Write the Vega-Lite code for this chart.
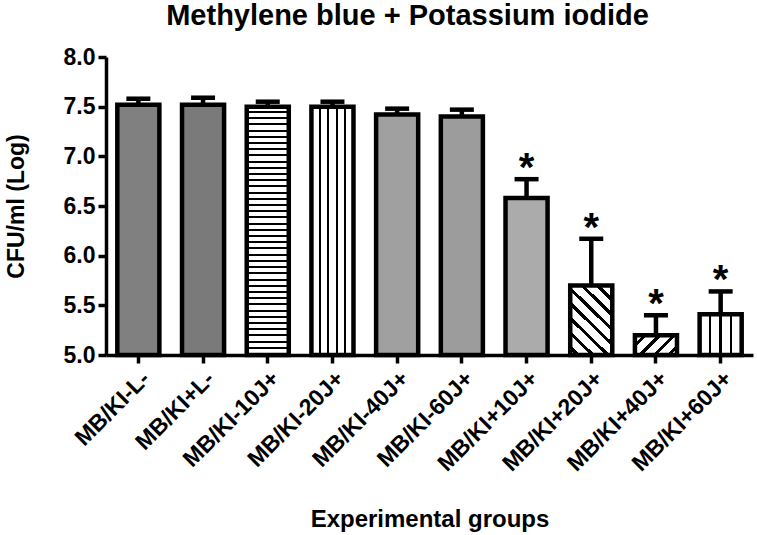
{
  "$schema": "https://vega.github.io/schema/vega-lite/v6.json",
  "width": 647,
  "height": 298,
  "autosize": "none",
  "padding": {"left": 106, "top": 57, "right": 4, "bottom": 180},
  "background": "#ffffff",
  "title": {"text": "Methylene blue + Potassium iodide", "font": "Liberation Sans", "fontSize": 29, "fontWeight": "bold", "color": "#000", "anchor": "middle", "frame": "group", "dx": -22, "dy": 14, "baseline": "bottom", "offset": 0},
  "config": {
    "view": {"stroke": null},
    "axis": {"domainColor": "#000", "domainWidth": 3.5, "tickColor": "#000", "tickWidth": 3.5, "tickSize": 8, "labelColor": "#000", "labelFont": "Liberation Sans", "labelFontWeight": "bold", "titleFont": "Liberation Sans", "titleFontWeight": "bold", "titleColor": "#000", "grid": false},
    "axisY": {"title": "CFU/ml (Log)", "values": [5, 5.5, 6, 6.5, 7, 7.5, 8], "format": ".1f", "labelFontSize": 23, "labelPadding": 3, "titleFontSize": 23, "titlePadding": 35}
  },
  "data": {"values": [
    {"group": "MB/KI-L-", "mean": 7.52, "upper": 7.58, "sig": ""},
    {"group": "MB/KI+L-", "mean": 7.52, "upper": 7.59, "sig": ""},
    {"group": "MB/KI-10J+", "mean": 7.50, "upper": 7.55, "sig": ""},
    {"group": "MB/KI-20J+", "mean": 7.50, "upper": 7.55, "sig": ""},
    {"group": "MB/KI-40J+", "mean": 7.42, "upper": 7.48, "sig": ""},
    {"group": "MB/KI-60J+", "mean": 7.40, "upper": 7.47, "sig": ""},
    {"group": "MB/KI+10J+", "mean": 6.58, "upper": 6.77, "sig": "*"},
    {"group": "MB/KI+20J+", "mean": 5.70, "upper": 6.17, "sig": "*"},
    {"group": "MB/KI+40J+", "mean": 5.20, "upper": 5.40, "sig": "*"},
    {"group": "MB/KI+60J+", "mean": 5.41, "upper": 5.64, "sig": "*"}
  ]},
  "encoding": {
    "x": {"field": "group", "type": "nominal", "sort": null,
      "scale": {"type": "band", "paddingInner": 0.35, "paddingOuter": 0.175},
      "axis": {"title": "Experimental groups", "labelAngle": -45, "labelFontSize": 23, "labelPadding": 4, "titleFontSize": 24, "titlePadding": 32, "bandPosition": 0.5}}
  },
  "layer": [
    {
      "mark": {"type": "rule", "strokeWidth": 4.5, "color": "#000"},
      "encoding": {
        "y": {"field": "mean", "type": "quantitative", "scale": {"domain": [5, 8], "nice": false, "zero": false}, "title": "CFU/ml (Log)"},
        "y2": {"field": "upper"}
      }
    },
    {
      "mark": {"type": "tick", "size": 24, "thickness": 4.5, "color": "#000", "opacity": 1, "orient": "horizontal"},
      "encoding": {
        "y": {"field": "upper", "type": "quantitative", "scale": {"domain": [5, 8], "nice": false, "zero": false}, "title": "CFU/ml (Log)"}
      }
    },
    {
      "mark": {"type": "bar", "stroke": "#000", "strokeWidth": 4.5},
      "encoding": {
        "y": {"field": "mean", "type": "quantitative", "scale": {"domain": [5, 8], "nice": false, "zero": false}, "title": "CFU/ml (Log)"},
        "y2": {"datum": 5},
        "fill": {"field": "group", "type": "nominal", "legend": null,
          "scale": {"domain": ["MB/KI-L-", "MB/KI+L-", "MB/KI-10J+", "MB/KI-20J+", "MB/KI-40J+", "MB/KI-60J+", "MB/KI+10J+", "MB/KI+20J+", "MB/KI+40J+", "MB/KI+60J+"],
                    "range": ["#808080", "#7a7a7a", "#ffffff", "#ffffff", "#a0a0a0", "#9c9c9c", "#ababab", "#ffffff", "#ffffff", "#ffffff"]},
          "condition": [
            {"test": "datum.group === 'MB/KI-10J+'", "value": {"gradient": "linear", "x1": 0, "y1": 0, "x2": 0, "y2": 1, "stops": [
              {"offset":0.017,"color":"#fff"},{"offset":0.017,"color":"#000"},{"offset":0.025,"color":"#000"},{"offset":0.025,"color":"#fff"},
              {"offset":0.042,"color":"#fff"},{"offset":0.042,"color":"#000"},{"offset":0.05,"color":"#000"},{"offset":0.05,"color":"#fff"},
              {"offset":0.067,"color":"#fff"},{"offset":0.067,"color":"#000"},{"offset":0.075,"color":"#000"},{"offset":0.075,"color":"#fff"},
              {"offset":0.092,"color":"#fff"},{"offset":0.092,"color":"#000"},{"offset":0.1,"color":"#000"},{"offset":0.1,"color":"#fff"},
              {"offset":0.117,"color":"#fff"},{"offset":0.117,"color":"#000"},{"offset":0.125,"color":"#000"},{"offset":0.125,"color":"#fff"},
              {"offset":0.142,"color":"#fff"},{"offset":0.142,"color":"#000"},{"offset":0.15,"color":"#000"},{"offset":0.15,"color":"#fff"},
              {"offset":0.167,"color":"#fff"},{"offset":0.167,"color":"#000"},{"offset":0.175,"color":"#000"},{"offset":0.175,"color":"#fff"},
              {"offset":0.192,"color":"#fff"},{"offset":0.192,"color":"#000"},{"offset":0.2,"color":"#000"},{"offset":0.2,"color":"#fff"},
              {"offset":0.217,"color":"#fff"},{"offset":0.217,"color":"#000"},{"offset":0.225,"color":"#000"},{"offset":0.225,"color":"#fff"},
              {"offset":0.242,"color":"#fff"},{"offset":0.242,"color":"#000"},{"offset":0.25,"color":"#000"},{"offset":0.25,"color":"#fff"},
              {"offset":0.267,"color":"#fff"},{"offset":0.267,"color":"#000"},{"offset":0.275,"color":"#000"},{"offset":0.275,"color":"#fff"},
              {"offset":0.292,"color":"#fff"},{"offset":0.292,"color":"#000"},{"offset":0.3,"color":"#000"},{"offset":0.3,"color":"#fff"},
              {"offset":0.317,"color":"#fff"},{"offset":0.317,"color":"#000"},{"offset":0.325,"color":"#000"},{"offset":0.325,"color":"#fff"},
              {"offset":0.342,"color":"#fff"},{"offset":0.342,"color":"#000"},{"offset":0.35,"color":"#000"},{"offset":0.35,"color":"#fff"},
              {"offset":0.367,"color":"#fff"},{"offset":0.367,"color":"#000"},{"offset":0.375,"color":"#000"},{"offset":0.375,"color":"#fff"},
              {"offset":0.392,"color":"#fff"},{"offset":0.392,"color":"#000"},{"offset":0.4,"color":"#000"},{"offset":0.4,"color":"#fff"},
              {"offset":0.417,"color":"#fff"},{"offset":0.417,"color":"#000"},{"offset":0.425,"color":"#000"},{"offset":0.425,"color":"#fff"},
              {"offset":0.442,"color":"#fff"},{"offset":0.442,"color":"#000"},{"offset":0.45,"color":"#000"},{"offset":0.45,"color":"#fff"},
              {"offset":0.467,"color":"#fff"},{"offset":0.467,"color":"#000"},{"offset":0.475,"color":"#000"},{"offset":0.475,"color":"#fff"},
              {"offset":0.492,"color":"#fff"},{"offset":0.492,"color":"#000"},{"offset":0.5,"color":"#000"},{"offset":0.5,"color":"#fff"},
              {"offset":0.517,"color":"#fff"},{"offset":0.517,"color":"#000"},{"offset":0.525,"color":"#000"},{"offset":0.525,"color":"#fff"},
              {"offset":0.542,"color":"#fff"},{"offset":0.542,"color":"#000"},{"offset":0.55,"color":"#000"},{"offset":0.55,"color":"#fff"},
              {"offset":0.567,"color":"#fff"},{"offset":0.567,"color":"#000"},{"offset":0.575,"color":"#000"},{"offset":0.575,"color":"#fff"},
              {"offset":0.592,"color":"#fff"},{"offset":0.592,"color":"#000"},{"offset":0.6,"color":"#000"},{"offset":0.6,"color":"#fff"},
              {"offset":0.617,"color":"#fff"},{"offset":0.617,"color":"#000"},{"offset":0.625,"color":"#000"},{"offset":0.625,"color":"#fff"},
              {"offset":0.642,"color":"#fff"},{"offset":0.642,"color":"#000"},{"offset":0.65,"color":"#000"},{"offset":0.65,"color":"#fff"},
              {"offset":0.667,"color":"#fff"},{"offset":0.667,"color":"#000"},{"offset":0.675,"color":"#000"},{"offset":0.675,"color":"#fff"},
              {"offset":0.692,"color":"#fff"},{"offset":0.692,"color":"#000"},{"offset":0.7,"color":"#000"},{"offset":0.7,"color":"#fff"},
              {"offset":0.717,"color":"#fff"},{"offset":0.717,"color":"#000"},{"offset":0.725,"color":"#000"},{"offset":0.725,"color":"#fff"},
              {"offset":0.742,"color":"#fff"},{"offset":0.742,"color":"#000"},{"offset":0.75,"color":"#000"},{"offset":0.75,"color":"#fff"},
              {"offset":0.767,"color":"#fff"},{"offset":0.767,"color":"#000"},{"offset":0.775,"color":"#000"},{"offset":0.775,"color":"#fff"},
              {"offset":0.792,"color":"#fff"},{"offset":0.792,"color":"#000"},{"offset":0.8,"color":"#000"},{"offset":0.8,"color":"#fff"},
              {"offset":0.817,"color":"#fff"},{"offset":0.817,"color":"#000"},{"offset":0.825,"color":"#000"},{"offset":0.825,"color":"#fff"},
              {"offset":0.842,"color":"#fff"},{"offset":0.842,"color":"#000"},{"offset":0.85,"color":"#000"},{"offset":0.85,"color":"#fff"},
              {"offset":0.867,"color":"#fff"},{"offset":0.867,"color":"#000"},{"offset":0.875,"color":"#000"},{"offset":0.875,"color":"#fff"},
              {"offset":0.892,"color":"#fff"},{"offset":0.892,"color":"#000"},{"offset":0.9,"color":"#000"},{"offset":0.9,"color":"#fff"},
              {"offset":0.917,"color":"#fff"},{"offset":0.917,"color":"#000"},{"offset":0.925,"color":"#000"},{"offset":0.925,"color":"#fff"},
              {"offset":0.942,"color":"#fff"},{"offset":0.942,"color":"#000"},{"offset":0.95,"color":"#000"},{"offset":0.95,"color":"#fff"},
              {"offset":0.967,"color":"#fff"},{"offset":0.967,"color":"#000"},{"offset":0.975,"color":"#000"},{"offset":0.975,"color":"#fff"}
            ]}},
            {"test": "datum.group === 'MB/KI-20J+'", "value": {"gradient": "linear", "x1": 0, "y1": 0, "x2": 1, "y2": 0, "stops": [
              {"offset":0.175,"color":"#fff"},{"offset":0.175,"color":"#000"},{"offset":0.225,"color":"#000"},{"offset":0.225,"color":"#fff"},
              {"offset":0.375,"color":"#fff"},{"offset":0.375,"color":"#000"},{"offset":0.425,"color":"#000"},{"offset":0.425,"color":"#fff"},
              {"offset":0.575,"color":"#fff"},{"offset":0.575,"color":"#000"},{"offset":0.625,"color":"#000"},{"offset":0.625,"color":"#fff"},
              {"offset":0.775,"color":"#fff"},{"offset":0.775,"color":"#000"},{"offset":0.825,"color":"#000"},{"offset":0.825,"color":"#fff"}
            ]}},
            {"test": "datum.group === 'MB/KI+20J+'", "value": {"gradient": "linear", "x1": 0, "y1": 1, "x2": 0.696, "y2": -0.179, "stops": [
              {"offset":0.05,"color":"#fff"},{"offset":0.05,"color":"#000"},{"offset":0.09,"color":"#000"},{"offset":0.09,"color":"#fff"},
              {"offset":0.18,"color":"#fff"},{"offset":0.18,"color":"#000"},{"offset":0.22,"color":"#000"},{"offset":0.22,"color":"#fff"},
              {"offset":0.313,"color":"#fff"},{"offset":0.313,"color":"#000"},{"offset":0.353,"color":"#000"},{"offset":0.353,"color":"#fff"},
              {"offset":0.447,"color":"#fff"},{"offset":0.447,"color":"#000"},{"offset":0.487,"color":"#000"},{"offset":0.487,"color":"#fff"},
              {"offset":0.58,"color":"#fff"},{"offset":0.58,"color":"#000"},{"offset":0.62,"color":"#000"},{"offset":0.62,"color":"#fff"},
              {"offset":0.713,"color":"#fff"},{"offset":0.713,"color":"#000"},{"offset":0.753,"color":"#000"},{"offset":0.753,"color":"#fff"},
              {"offset":0.847,"color":"#fff"},{"offset":0.847,"color":"#000"},{"offset":0.887,"color":"#000"},{"offset":0.887,"color":"#fff"}
            ]}},
            {"test": "datum.group === 'MB/KI+40J+'", "value": {"gradient": "linear", "x1": 0, "y1": 0, "x2": 1.204, "y2": 0.57, "stops": [
              {"offset":0.13,"color":"#fff"},{"offset":0.13,"color":"#000"},{"offset":0.2,"color":"#000"},{"offset":0.2,"color":"#fff"},
              {"offset":0.37,"color":"#fff"},{"offset":0.37,"color":"#000"},{"offset":0.44,"color":"#000"},{"offset":0.44,"color":"#fff"},
              {"offset":0.6,"color":"#fff"},{"offset":0.6,"color":"#000"},{"offset":0.67,"color":"#000"},{"offset":0.67,"color":"#fff"},
              {"offset":0.83,"color":"#fff"},{"offset":0.83,"color":"#000"},{"offset":0.9,"color":"#000"},{"offset":0.9,"color":"#fff"}
            ]}},
            {"test": "datum.group === 'MB/KI+60J+'", "value": {"gradient": "linear", "x1": 0, "y1": 0, "x2": 1, "y2": 0, "stops": [
              {"offset":0.22,"color":"#fff"},{"offset":0.22,"color":"#000"},{"offset":0.28,"color":"#000"},{"offset":0.28,"color":"#fff"},
              {"offset":0.47,"color":"#fff"},{"offset":0.47,"color":"#000"},{"offset":0.53,"color":"#000"},{"offset":0.53,"color":"#fff"},
              {"offset":0.72,"color":"#fff"},{"offset":0.72,"color":"#000"},{"offset":0.78,"color":"#000"},{"offset":0.78,"color":"#fff"}
            ]}}
          ]
        }
      }
    },
    {
      "mark": {"type": "text", "font": "Liberation Sans", "fontSize": 40, "fontWeight": "bold", "color": "#000", "baseline": "alphabetic", "dy": 2},
      "encoding": {
        "y": {"field": "upper", "type": "quantitative", "scale": {"domain": [5, 8], "nice": false, "zero": false}, "title": "CFU/ml (Log)"},
        "text": {"field": "sig"}
      }
    }
  ]
}
